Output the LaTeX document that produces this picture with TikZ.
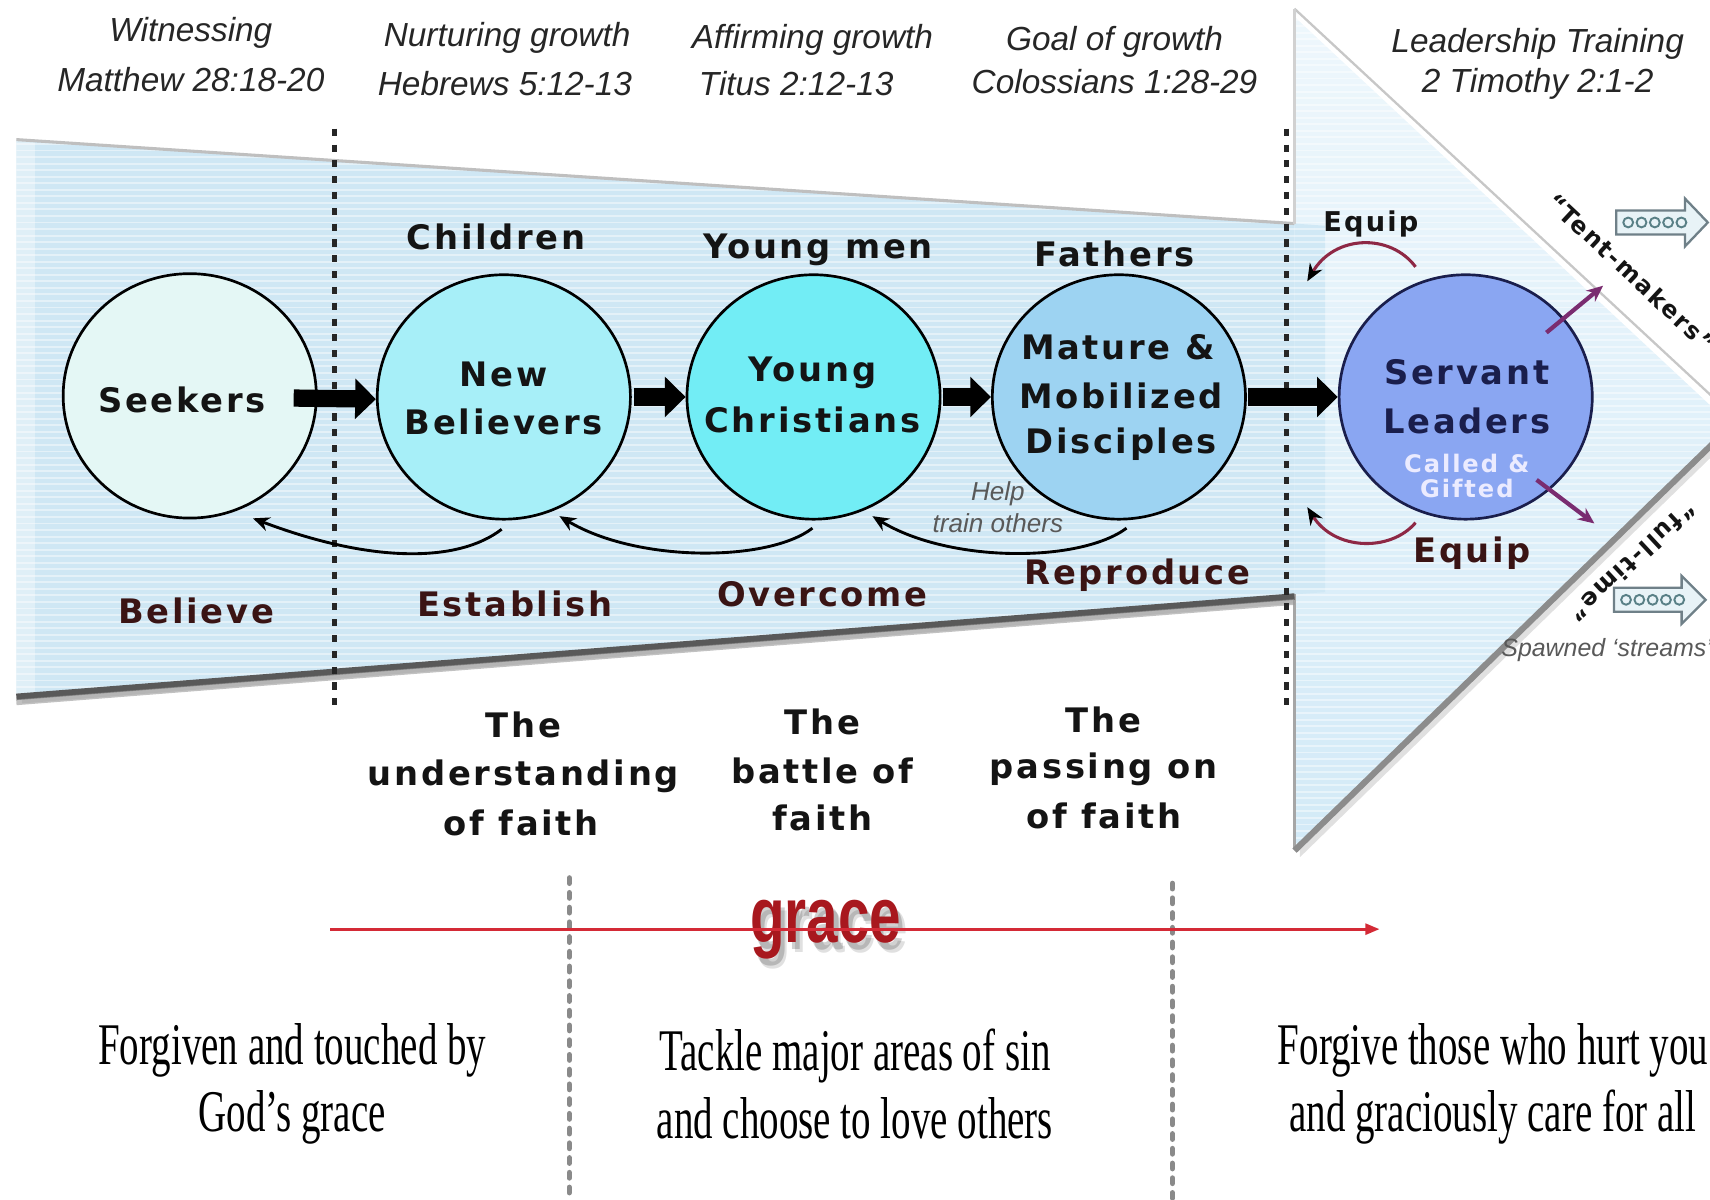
\documentclass[tikz,border=0pt]{standalone}
\usepackage{fontspec}
\setmainfont{Liberation Serif}
\newfontfamily\hdrfont{Liberation Sans}
\newfontfamily\blkfont[LetterSpace=8]{DejaVu Sans}
\newfontfamily\gracefont[FakeStretch=0.72]{Liberation Sans}
\newfontfamily\bodyfont[FakeStretch=0.66]{Liberation Serif}
\usetikzlibrary{arrows.meta,shapes.geometric,calc}
\definecolor{bandblue}{HTML}{CFE7F4}
\definecolor{headtop}{HTML}{EEF7FC}
\definecolor{headbot}{HTML}{D3EAF7}
\definecolor{seekfill}{HTML}{E4F7F5}
\definecolor{nbfill}{HTML}{A7EFF8}
\definecolor{ycfill}{HTML}{72EDF5}
\definecolor{mmdfill}{HTML}{9DD3F2}
\definecolor{slfill}{HTML}{8AA6F2}
\definecolor{navy}{HTML}{1A1E4C}
\definecolor{maroon}{HTML}{3A1414}
\definecolor{arcred}{HTML}{8E2845}
\definecolor{purp}{HTML}{7A2C70}
\definecolor{gracered}{HTML}{A8181E}
\definecolor{linered}{HTML}{D42A36}
\definecolor{dotgray}{HTML}{8A8A8A}
\definecolor{boxgray}{HTML}{6F8088}
\definecolor{boxfill}{HTML}{E8F3F7}
\begin{document}
\begin{tikzpicture}[x=0.01cm,y=-0.01cm,
  hdr/.style={font=\hdrfont\itshape\fontsize{8.7}{10}\selectfont, text=black!85, inner sep=0},
  lbl/.style={font=\blkfont\bfseries\fontsize{8.8}{10}\selectfont, text=black!92, inner sep=0},
  mlbl/.style={lbl, text=maroon},
  slbl/.style={lbl, text=navy},
  smalllbl/.style={font=\blkfont\bfseries\fontsize{7.1}{8}\selectfont, text=black!92, inner sep=0},
  rotlbl/.style={font=\blkfont\bfseries\fontsize{6.2}{7}\selectfont, text=black!92, inner sep=0},
  calledlbl/.style={font=\blkfont\bfseries\fontsize{6.3}{7}\selectfont, text=white!92!blue, inner sep=0},
  tinyit/.style={font=\hdrfont\itshape\fontsize{6.8}{8}\selectfont, text=black!65, inner sep=0},
  stage/.style={ellipse, draw=black, line width=0.7pt, minimum width=2.32cm, minimum height=2.24cm, inner sep=0},
  bigarrow/.style={line width=4.5pt, -{Triangle[length=0.19cm,width=0.36cm]}},
  retarrow/.style={line width=0.75pt, -{Stealth[length=0.15cm,width=0.13cm]}},
  equiparc/.style={draw=arcred, line width=0.8pt, -{Stealth[color=black,length=0.16cm,width=0.13cm]}},
  purparrow/.style={draw=purp, line width=1.1pt, -{Stealth[length=0.15cm,width=0.13cm]}},
  blkdash/.style={draw=black!85, line width=1.3pt, dash pattern=on 0.065cm off 0.08cm},
  dotline/.style={draw=dotgray, line width=1.4pt, line cap=round, dash pattern=on 0.05cm off 0.085cm},
  redline/.style={draw=linered, line width=0.75pt, -{Triangle[length=0.13cm,width=0.1cm]}},
  gracetxt/.style={font=\gracefont\bfseries\fontsize{20.5}{22}\selectfont, text=gracered, inner sep=0},
  bodytxt/.style={font=\bodyfont\fontsize{15.4}{17.6}\selectfont, text=black, inner sep=0, align=center},
  blockarrow/.style={draw=boxgray, fill=boxfill, line width=0.6pt, line join=miter},
  dotc/.style={draw=boxgray!80!teal, line width=0.5pt}
]
\useasboundingbox (0,0) rectangle (1568,1100);
\clip (0,0) rectangle (1568,1100);
\fill[white] (0,0) rectangle (1568,1100);

% ---- band + arrowhead ----
\begin{scope}[shift={(5,8)}]
\fill[black, opacity=0.12] (15,128) -- (1187,205) -- (1187,8) -- (1592,384) -- (1187,778) -- (1187,545) -- (15,637) -- cycle;
\end{scope}
\fill[bandblue] (15,128) -- (1187,205) -- (1187,8) -- (1592,384) -- (1187,778) -- (1187,545) -- (15,637) -- cycle;
\shade[top color=headtop, bottom color=headbot] (1187,8) -- (1592,384) -- (1187,778) -- cycle;
\fill[bandblue!70!headbot] (1187,205) -- (1215,207) -- (1215,543) -- (1187,545) -- cycle;
\begin{scope}
\clip (15,128) -- (1187,205) -- (1187,8) -- (1592,384) -- (1187,778) -- (1187,545) -- (15,637) -- cycle;
\foreach \yy in {0,6,...,780} \draw[white, opacity=0.45, line width=0.5pt] (0,\yy) -- (1600,\yy);
\fill[white, opacity=0.35] (15,128) rectangle (32,640);
\end{scope}
\draw[white, line width=2.5pt] (1190,12) -- (1588,384);
\draw[black!22, line width=0.6pt] (1187,8) -- (1592,384);
\draw[black!25, line width=0.8pt] (15,128) -- (1187,205);
\draw[black!18, line width=0.6pt] (1187,8) -- (1187,205);
\draw[black!35, line width=0.6pt] (1187,545) -- (1187,778);
\draw[black!65, line width=1.7pt] (15,639) -- (1187,547);
\draw[black!40, line width=1.5pt, opacity=0.6] (15,644) -- (1187,552);
\draw[black!45, line width=1.6pt] (1187,780) -- (1592,386);

% ---- dashed dividers ----
\coordinate (d1t) at (307,118); \coordinate (d1b) at (307,652);
\coordinate (d2t) at (1180,118); \coordinate (d2b) at (1180,648);
\draw[blkdash] (d1t) -- (d1b);
\draw[blkdash] (d2t) -- (d2b);

% ---- headers ----
\node[hdr] (h1a) at (175,30) {Witnessing};
\node[hdr] (h1b) at (175,73) {Matthew 28:18-20};
\node[hdr] (h2a) at (465,35) {Nurturing growth};
\node[hdr] (h2b) at (463,77) {Hebrews 5:12-13};
\node[hdr] (h3a) at (745,37) {Affirming growth};
\node[hdr] (h3b) at (730,77) {Titus 2:12-13};
\node[hdr] (h4a) at (1022,38) {Goal of growth};
\node[hdr] (h4b) at (1022,75) {Colossians 1:28-29};
\node[hdr] (h5a) at (1410,40) {Leadership Training};
\node[hdr] (h5b) at (1410,77) {2 Timothy 2:1-2};

% ---- stages ----
\node[stage, fill=seekfill] (seek) at (174,363) {};
\node[stage, fill=nbfill] (nb) at (462,364) {};
\node[stage, fill=ycfill] (yc) at (746,364) {};
\node[stage, fill=mmdfill] (mmd) at (1026,364) {};
\node[stage, fill=slfill, draw=navy] (sl) at (1344,364) {};

\draw[bigarrow] ($(seek.east)+(-22,2)$) -- ($(nb.west)+(0,2)$);
\draw[bigarrow] ($(nb.east)+(2,0)$) -- (yc.west);
\draw[bigarrow] ($(yc.east)+(1,0)$) -- (mmd.west);
\draw[bigarrow] ($(mmd.east)+(1,0)$) -- (sl.west);

\node[lbl] (tseek) at (167,367) {Seekers};
\node[lbl] (tnb1) at (462,343) {New};
\node[lbl] (tnb2) at (462,387) {Believers};
\node[lbl] (tyc1) at (745,342) {Young};
\node[lbl] (tyc2) at (745,385) {Christians};
\node[lbl] (tm1) at (1025,318) {Mature \&};
\node[lbl] (tm2) at (1028,363) {Mobilized};
\node[lbl] (tm3) at (1028,407) {Disciples};
\node[slbl] (tsl1) at (1345,341) {Servant};
\node[slbl] (tsl2) at (1345,386) {Leaders};
\node[calledlbl] (tsl3) at (1345,425) {Called \&};
\node[calledlbl] (tsl4) at (1345,448) {Gifted};

% ---- level labels ----
\node[lbl] (lch) at (455,217) {Children};
\node[lbl] (lym) at (750,229) {Young men};
\node[lbl] (lfa) at (1022,233) {Fathers};
\node[smalllbl] (leq1) at (1257,205) {Equip};
\node[mlbl] (lbe) at (180,560) {Believe};
\node[mlbl] (les) at (472,554) {Establish};
\node[mlbl] (lov) at (754,545) {Overcome};
\node[mlbl] (lre) at (1043,527) {Reproduce};
\node[mlbl] (leq2) at (1350,507) {Equip};

% ---- return arrows ----
\draw[retarrow] ($(nb.south)+(-2,8)$) .. controls +(-40,31) and +(108,41) .. ($(seek.south)+(58,-1)$);
\draw[retarrow] ($(yc.south)+(-1,7)$) .. controls +(-40,31) and +(72,43) .. ($(nb.south)+(51,-4)$);
\draw[retarrow] ($(mmd.south)+(7,7)$) .. controls +(-43,32) and +(70,43) .. ($(yc.south)+(54,-4)$);
\node[tinyit] (help1) at (915,453) {Help};
\node[tinyit] (help2) at (915,480) {train others};

% ---- equip arcs ----
\draw[equiparc] ($(sl.north)+(-46,-6)$) .. controls +(-23,-31) and +(25,-43) .. ($(sl.west)+(-28,-106)$);
\draw[equiparc] ($(sl.south)+(-46,2)$) .. controls +(-23,27) and +(25,40) .. ($(sl.west)+(-28,101)$);

% ---- spawned streams ----
\coordinate (tmend) at (1470,262);
\coordinate (ftend) at (1462,480);
\draw[purparrow] ($(sl.center)+(74,-59)$) -- (tmend);
\draw[purparrow] ($(sl.center)+(65,76)$) -- (ftend);
\node[rotlbl, rotate=-43] (tent) at (1496,250) {“Tent-makers”};
\node[rotlbl, rotate=-137] (full) at (1497,515) {“full-time”};

\draw[blockarrow] (1482,193) -- (1545,193) -- (1545,182) -- (1566,204) -- (1545,226) -- (1545,215) -- (1482,215) -- cycle;
\foreach \i in {0,...,4} \draw[dotc] (1493+12.2*\i,204) circle[radius=0.045cm];
\draw[blockarrow] (1480,539) -- (1542,539) -- (1542,528) -- (1564,550) -- (1542,572) -- (1542,561) -- (1480,561) -- cycle;
\foreach \i in {0,...,4} \draw[dotc] (1491+12.2*\i,550) circle[radius=0.045cm];
\node[tinyit, anchor=west, font=\hdrfont\itshape\fontsize{6.5}{8}\selectfont] (spawn) at (1376,596) {Spawned ‘streams’};

% ---- faith texts ----
\node[lbl] (f1a) at (480,665) {The};
\node[lbl] (f1b) at (480,712) {understanding};
\node[lbl] (f1c) at (478,755) {of faith};
\node[lbl] (f2a) at (754,662) {The};
\node[lbl] (f2b) at (754,707) {battle of};
\node[lbl] (f2c) at (754,750) {faith};
\node[lbl] (f3a) at (1012,660) {The};
\node[lbl] (f3b) at (1012,705) {passing on};
\node[lbl] (f3c) at (1012,748) {of faith};

% ---- grace section ----
\coordinate (g1t) at (522,805); \coordinate (g1b) at (522,1100);
\coordinate (g2t) at (1075,810); \coordinate (g2b) at (1075,1100);
\draw[dotline] (g1t) -- (g1b);
\draw[dotline] (g2t) -- (g2b);
\node[gracetxt, text=black, opacity=0.12] (graceshadow1) at (763,862) {grace};
\node[gracetxt, text=black, opacity=0.18] (graceshadow2) at (761,859) {grace};
\node[gracetxt] (grace) at (757,852) {grace};
\coordinate (gs) at (303,852);
\coordinate (ge) at (1265,852);
\draw[redline] (gs) -- (ge);

\node[bodytxt] (b1) at (268,994) {Forgiven and touched by\\God’s grace};
\node[bodytxt] (b2) at (784,994) {Tackle major areas of sin\\and choose to love others};
\node[bodytxt] (b3) at (1369,994) {Forgive those who hurt you\\and graciously care for all};
\end{tikzpicture}
\end{document}
